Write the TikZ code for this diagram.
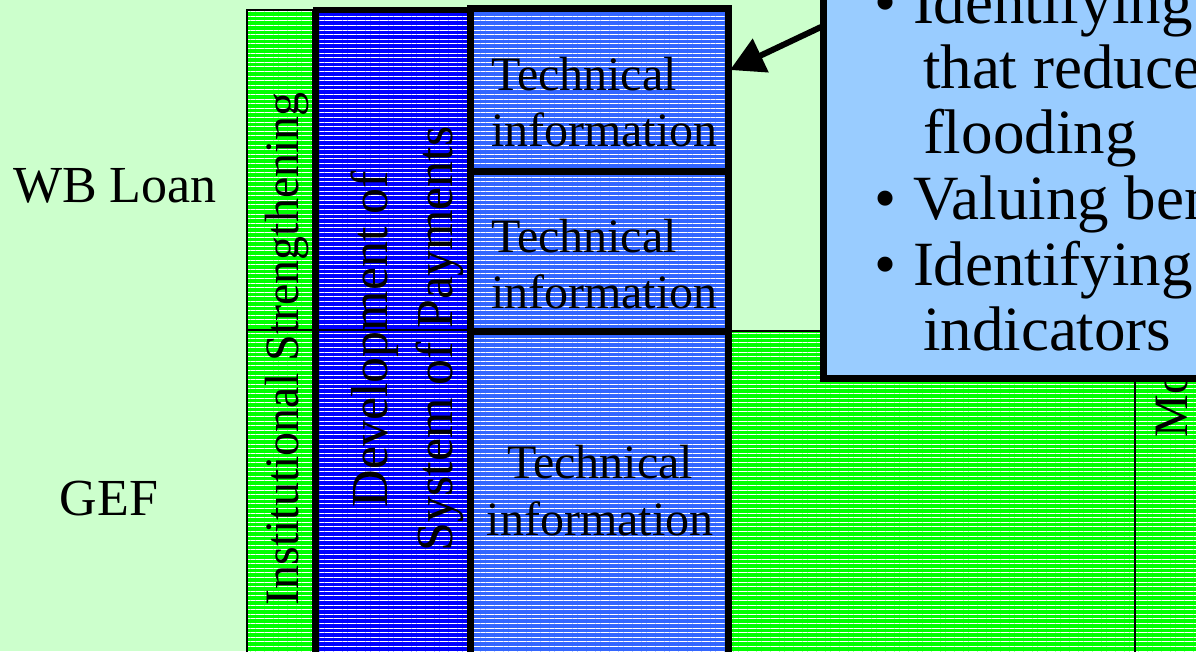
\documentclass[tikz,border=0pt]{standalone}
\usepackage{fontspec}
\setmainfont{Liberation Serif}
\usetikzlibrary{patterns.meta,arrows.meta}
\definecolor{bgc}{HTML}{CCFFCC}
\definecolor{grn}{HTML}{00FF00}
\definecolor{dblue}{HTML}{0000FF}
\definecolor{tblue}{HTML}{3366FF}
\definecolor{cblue}{HTML}{99CCFF}
\newcommand{\setfs}[1]{\fontsize{#1}{#1}\selectfont}
\tikzset{
  region/.style={rectangle, inner sep=0pt, outer sep=0pt, anchor=north west,
    preaction={fill=#1}, pattern={Lines[angle=0,distance=4.6pt,line width=0.9pt]},
    pattern color=white},
  thinbox/.style={draw=black, line width=2pt},
  thickbox/.style={draw=black, line width=7pt},
  txt/.style={inner sep=0pt, outer sep=0pt, anchor=base},
  txtw/.style={inner sep=0pt, outer sep=0pt, anchor=base west},
  label/.style={txt, font=\setfs{52}},
  tech/.style={font=\setfs{48}},
  vert/.style={txt, rotate=90},
  callt/.style={txtw, font=\setfs{63}},
  bigarrow/.style={line width=6pt, -{Triangle[length=34pt,width=36pt]}}
}
\begin{document}
\begin{tikzpicture}[x=1pt,y=-1pt]
\useasboundingbox (0,0) rectangle (1196,651);
\clip (0,0) rectangle (1196,651);
\fill[bgc] (0,0) rectangle (1196,651);

% side labels
\node[label] (wb) at (115,202) {WB Loan};
\node[label] (gef) at (109,515) {GEF};

% Institutional strengthening column
\node[region=grn, thinbox, minimum width=66pt, minimum height=320pt] (insttop) at (247,10) {};
\node[region=grn, thinbox, minimum width=66pt, minimum height=340pt] (instbot) at (247,330) {};
\node[vert, font=\setfs{48}] (instlab) at (298,349) {Institutional Strengthening};

% green GEF area and right column
\node[region=grn, thinbox, minimum width=407pt, minimum height=340pt] (gefarea) at (728,331) {};
\node[region=grn, thinbox, minimum width=100pt, minimum height=680pt] (rightcol) at (1135,-10) {};
\node[txtw, rotate=90, font=\setfs{48}] (molab) at (1187,437) {Mo};

% Development column
\node[region=dblue, minimum width=154pt, minimum height=650pt] (devcol) at (316,10) {};
\draw[black, line width=1.5pt] (devcol.west |- 0,330) -- (devcol.east |- 0,330);
\draw[black, line width=6pt] (devcol.south west) -- (devcol.north west) -- (devcol.north east) -- (devcol.south east);
\node[vert, font=\setfs{52}] (dev1) at (387,339) {Development of};
\node[vert, font=\setfs{52}] (dev2) at (452,339) {System of Payments};

% Technical information boxes
\node[region=tblue, thickbox, minimum width=258pt, minimum height=163pt] (tech1) at (470,8) {};
\node[region=tblue, thickbox, minimum width=258pt, minimum height=160pt] (tech2) at (470,171) {};
\node[region=tblue, thickbox, minimum width=258pt, minimum height=340pt] (tech3) at (470,331) {};
\node[txtw, tech] (t1a) at (491,90) {Technical};
\node[txtw, tech] (t1b) at (491,146) {information};
\node[txtw, tech] (t2a) at (491,252) {Technical};
\node[txtw, tech] (t2b) at (491,308) {information};
\node[txt, tech] (t3a) at (600,478) {Technical};
\node[txt, tech] (t3b) at (600,535) {information};

% callout
\node[rectangle, inner sep=0pt, outer sep=0pt, anchor=south west, fill=cblue,
      draw=black, line width=7pt, minimum width=450pt, minimum height=450pt] (callout) at (823,378) {};
\coordinate (arrstart) at (821,27);
\coordinate (arrtip) at (730,70);
\draw[bigarrow] (arrstart) -- (arrtip);

\node[callt] (b1) at (874,23) {•};
\node[callt] (c1) at (913,23) {Identifying};
\node[callt] (c2) at (923,88) {that reduce};
\node[callt] (c3) at (923,153) {flooding};
\node[callt] (b2) at (874,219) {•};
\node[callt] (c4) at (913,219) {Valuing ben};
\node[callt] (b3) at (874,285) {•};
\node[callt] (c5) at (913,285) {Identifying};
\node[callt] (c6) at (923,350) {indicators};
\end{tikzpicture}
\end{document}
